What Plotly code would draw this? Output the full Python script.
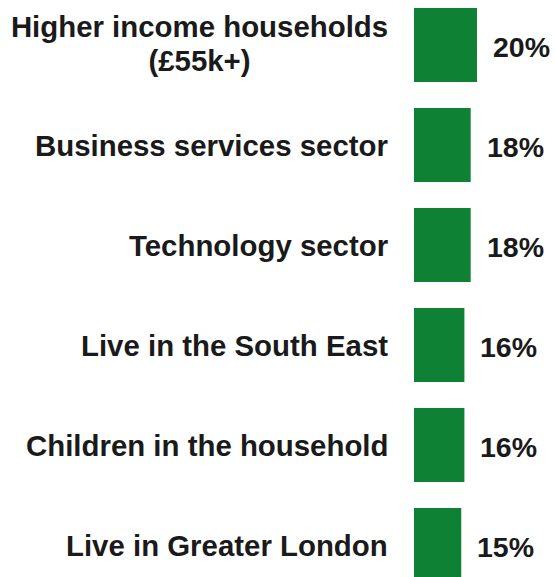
import plotly.graph_objects as go

# Share of each group, in percent
categories = [
    "Higher income households<br>(£55k+)",
    "Business services sector",
    "Technology sector",
    "Live in the South East",
    "Children in the household",
    "Live in Greater London",
]
values = [20, 18, 18, 16, 16, 15]

GREEN = "rgb(14,129,53)"
TEXT = "#1a1a1a"
FONT = "Arial, Liberation Sans, sans-serif"
LABEL_SIZE = 29.4
VALUE_SIZE = 28.5
LINE_GAP = 34      # px between lines of a wrapped label
WRAP_WIDTH = 377   # px box in which wrapped lines are centred

fig = go.Figure(
    go.Bar(
        x=values,
        y=list(range(len(categories))),
        orientation="h",
        marker=dict(color=GREEN, line=dict(width=0)),
        width=0.74,
        hoverinfo="skip",
    )
)

annotations = []
for i, (cat, v) in enumerate(zip(categories, values)):
    # category label to the left of the bar, one annotation per line
    lines = cat.split("<br>")
    n = len(lines)
    for k, line in enumerate(lines):
        offset = ((n - 1) / 2 - k) * LINE_GAP + (1.5 if n > 1 else 0)
        ann = dict(
            x=0, y=i, xref="x", yref="y", text=f"<b>{line}</b>",
            xanchor="right", yanchor="middle", xshift=-24, yshift=offset,
            showarrow=False, font=dict(family=FONT, size=LABEL_SIZE, color=TEXT),
        )
        if n > 1:
            ann.update(width=WRAP_WIDTH, align="center")
        annotations.append(ann)
    # value label to the right of the bar
    annotations.append(dict(
        x=v, y=i, xref="x", yref="y", text=f"<b>{v}%</b>",
        xanchor="left", yanchor="middle", xshift=14, yshift=-2,
        showarrow=False, font=dict(family=FONT, size=VALUE_SIZE, color=TEXT),
    ))

fig.update_layout(
    width=555, height=577,
    margin=dict(l=414, r=0, t=0, b=0),
    paper_bgcolor="white", plot_bgcolor="white",
    showlegend=False,
    annotations=annotations,
    xaxis=dict(range=[0, 141 / 3.15], visible=False, fixedrange=True),
    yaxis=dict(range=[5.32, -0.45], visible=False, fixedrange=True),
)

fig.write_html("out.html")
